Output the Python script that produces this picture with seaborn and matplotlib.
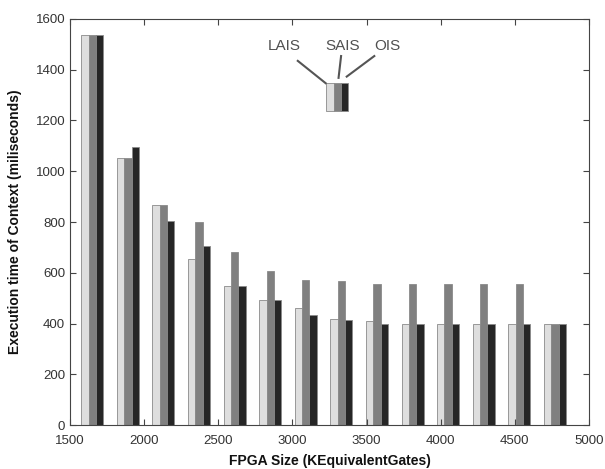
import matplotlib
matplotlib.use('Agg')
import matplotlib.pyplot as plt
import numpy as np
import pandas as pd
import seaborn as sb

# FPGA sizes (KEquivalentGates) and execution times (ms)
fpga_size = [1650, 1890, 2130, 2370, 2610, 2850, 3090, 3330, 3570, 3810, 4050, 4290, 4530, 4770]
lais = [1535, 1052, 868, 656, 549, 494, 462, 419, 410, 400, 400, 400, 400, 400]
sais = [1535, 1052, 868, 800, 682, 605, 570, 566, 555, 555, 555, 555, 555, 400]
ois = [1535, 1096, 805, 705, 549, 494, 434, 414, 400, 400, 400, 400, 400, 400]
series = ['LAIS', 'SAIS', 'OIS']
colors = ['#dedede', '#808080', '#262626']

df = pd.DataFrame({'size': fpga_size * 3,
                   'time': lais + sais + ois,
                   'method': np.repeat(series, len(fpga_size))})

plt.rcParams['font.family'] = ['Liberation Sans', 'DejaVu Sans']
fig = plt.figure(figsize=(6.05, 4.69), dpi=100)
ax = fig.add_axes([0.1157, 0.0938, 0.8579, 0.8657])

sb.barplot(data=df, x='size', y='time', hue='method', hue_order=series,
           palette=colors, native_scale=True, width=0.62, errorbar=None,
           edgecolor='#8a8a8a', linewidth=0.6, legend=False, ax=ax)

ax.set_xlim(1500, 5000)
ax.set_ylim(0, 1600)
ax.set_xticks(range(1500, 5001, 500))
ax.set_yticks(range(0, 1601, 200))
ax.tick_params(direction='in', top=True, right=True, labelsize=9.5,
               labelcolor='#333333', color='#444444', length=4)
ax.tick_params(axis='x', pad=7)
for s in ax.spines.values():
    s.set_color('#444444')
    s.set_linewidth(0.8)

ax.set_xlabel('FPGA Size (KEquivalentGates)', fontsize=10, fontweight='bold',
              color='#111111', labelpad=5)
ax.set_ylabel('Execution time of Context (miliseconds)', fontsize=10, fontweight='bold', color='#111111')
ax.yaxis.set_label_coords(-0.092, 0.5)

# inset legend: small bar group with labelled pointers
ax.bar([3254, 3303, 3352], [110, 110, 110], bottom=1237, width=49,
       color=colors, edgecolor='#8a8a8a', linewidth=0.6)
lbl_style = dict(fontsize=11, color='#505050', ha='center', va='center')
ax.text(2943, 1494, 'LAIS', **lbl_style)
ax.text(3341, 1494, 'SAIS', **lbl_style)
ax.text(3638, 1494, 'OIS', **lbl_style)
ax.plot([3036, 3224], [1435, 1347], color='#555555', lw=1.5)
ax.plot([3328, 3311], [1454, 1368], color='#555555', lw=1.5)
ax.plot([3552, 3366], [1454, 1373], color='#555555', lw=1.5)

plt.savefig('out.png', dpi=100)
